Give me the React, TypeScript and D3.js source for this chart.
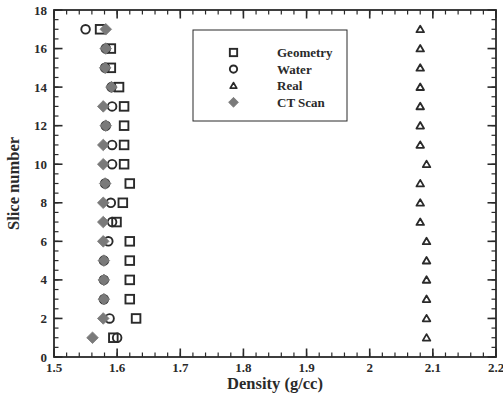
import React from "react";
import * as d3 from "d3";

const slices = [1, 2, 3, 4, 5, 6, 7, 8, 9, 10, 11, 12, 13, 14, 15, 16, 17];
const geometry = [1.594, 1.63, 1.62, 1.62, 1.62, 1.62, 1.599, 1.609, 1.62, 1.611, 1.611, 1.611, 1.611, 1.603, 1.59, 1.59, 1.573];
const water = [1.6, 1.588, 1.579, 1.579, 1.579, 1.586, 1.592, 1.59, 1.581, 1.592, 1.592, 1.582, 1.592, 1.591, 1.581, 1.582, 1.55];
const real = [2.09, 2.09, 2.09, 2.09, 2.09, 2.09, 2.08, 2.08, 2.08, 2.09, 2.08, 2.08, 2.08, 2.08, 2.08, 2.08, 2.08];
const ctScan = [1.561, 1.578, 1.579, 1.579, 1.579, 1.578, 1.578, 1.578, 1.581, 1.578, 1.578, 1.582, 1.578, 1.591, 1.581, 1.582, 1.582];
const legendLabels = ["Geometry", "Water", "Real", "CT Scan"];

const W = 503, H = 396;
const L = 54, R = 496, T = 10, B = 357;
const FONT = "'Liberation Serif', 'Times New Roman', serif";
const INK = "#2a2a2a";
const GRAY = "#7a7a7a";

function Marker({ kind, x, y, s = 1 }: { kind: number; x: number; y: number; s?: number }) {
  if (kind === 0) {
    const h = 4.3 * s;
    return <rect x={x - h} y={y - h} width={2 * h} height={2 * h} fill="white" stroke={INK} strokeWidth={1.9} />;
  }
  if (kind === 1) {
    return <circle cx={x} cy={y} r={4.3 * s} fill="none" stroke={INK} strokeWidth={1.9} />;
  }
  if (kind === 2) {
    const h = 3.6 * s;
    const p = `M${x},${y - h} L${x + h * 1.05},${y + h * 0.8} L${x - h * 1.05},${y + h * 0.8} Z`;
    return <path d={p} fill="white" stroke={INK} strokeWidth={1.8} strokeLinejoin="round" />;
  }
  const h = 5.8 * s;
  const p = `M${x},${y - h} L${x + h},${y} L${x},${y + h} L${x - h},${y} Z`;
  return <path d={p} fill={GRAY} stroke={GRAY} strokeWidth={0.8} />;
}

export default function App() {
  const x = d3.scaleLinear().domain([1.5, 2.2]).range([L, R]);
  const y = d3.scaleLinear().domain([0, 18]).range([B, T]);
  const xMajor = x.ticks(7);
  const xMinor = x.ticks(35);
  const yMajor = y.ticks(9);
  const yMinor = y.ticks(36);
  const fmt = (d: number) => String(Math.round(d * 10) / 10);
  const series = [geometry, water, real, ctScan];

  return (
    <svg width={W} height={H} style={{ position: "absolute", left: 0, top: 0, background: "white" }}>
      <rect x={0} y={0} width={W} height={H} fill="white" />
      {/* ticks */}
      <g stroke={INK} strokeWidth={1.2}>
        {xMinor.map((d, i) => (
          <g key={"xm" + i}>
            <line x1={x(d)} x2={x(d)} y1={B} y2={B - 4.5} />
            <line x1={x(d)} x2={x(d)} y1={T} y2={T + 4.5} />
          </g>
        ))}
        {xMajor.map((d, i) => (
          <g key={"xM" + i}>
            <line x1={x(d)} x2={x(d)} y1={B} y2={B - 8.5} strokeWidth={1.6} />
            <line x1={x(d)} x2={x(d)} y1={T} y2={T + 8.5} strokeWidth={1.6} />
          </g>
        ))}
        {yMinor.map((d, i) => (
          <g key={"ym" + i}>
            <line x1={L} x2={L + 4.5} y1={y(d)} y2={y(d)} />
            <line x1={R} x2={R - 4.5} y1={y(d)} y2={y(d)} />
          </g>
        ))}
        {yMajor.map((d, i) => (
          <g key={"yM" + i}>
            <line x1={L} x2={L + 8.5} y1={y(d)} y2={y(d)} strokeWidth={1.6} />
            <line x1={R} x2={R - 8.5} y1={y(d)} y2={y(d)} strokeWidth={1.6} />
          </g>
        ))}
      </g>
      <rect x={L} y={T} width={R - L} height={B - T} fill="none" stroke={INK} strokeWidth={1.8} />
      {/* tick labels */}
      <g fontFamily={FONT} fontWeight="bold" fontSize={13} fill={INK}>
        {xMajor.map((d, i) => (
          <text key={"xl" + i} x={x(d)} y={B + 15} textAnchor="middle">{fmt(d)}</text>
        ))}
        {yMajor.map((d, i) => (
          <text key={"yl" + i} x={L - 7} y={y(d) + 4.5} textAnchor="end">{fmt(d)}</text>
        ))}
      </g>
      <text x={(L + R) / 2} y={B + 32} textAnchor="middle" fontFamily={FONT} fontWeight="bold" fontSize={16.5} fill={INK}>
        Density (g/cc)
      </text>
      <text
        transform={`translate(19,${(T + B) / 2}) rotate(-90)`}
        textAnchor="middle"
        fontFamily={FONT}
        fontWeight="bold"
        fontSize={16.5}
        fill={INK}
      >
        Slice number
      </text>
      {/* data */}
      {series.map((vals, si) => (
        <g key={"s" + si}>
          {vals.map((v, i) => (
            <Marker key={i} kind={si} x={x(v)} y={y(slices[i])} />
          ))}
        </g>
      ))}
      {/* legend */}
      <rect x={193} y={30} width={154} height={91} fill="white" stroke={INK} strokeWidth={1} />
      {legendLabels.map((lab, i) => {
        const ly = 52.5 + i * 16.6;
        return (
          <g key={"lg" + i}>
            <Marker kind={i} x={233.5} y={ly} s={0.85} />
            <text x={277} y={ly + 4.5} fontFamily={FONT} fontWeight="bold" fontSize={13} fill={INK}>{lab}</text>
          </g>
        );
      })}
    </svg>
  );
}
